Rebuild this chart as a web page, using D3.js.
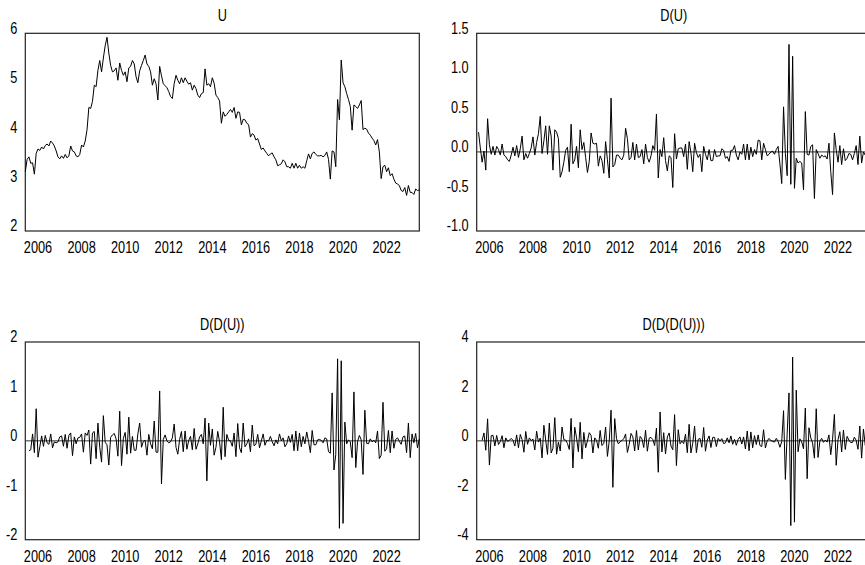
<!DOCTYPE html>
<html><head><meta charset="utf-8">
<script src="https://cdn.jsdelivr.net/npm/d3@7"></script>
<style>
html,body{margin:0;padding:0;background:#fff;}
svg text{font-family:"Liberation Sans",Arial,sans-serif;font-size:17px;fill:#000;}
</style></head>
<body><svg id="c" width="865" height="565"></svg>
<script>
// Monthly series U, first observation 2005M06
const startYear = 2005, startMonth = 6;
const u = [3.20,3.45,3.50,3.37,3.38,3.15,3.57,3.66,3.63,3.70,3.66,3.73,3.76,3.72,3.82,3.78,3.72,3.62,3.50,3.46,
3.52,3.47,3.55,3.48,3.52,3.72,3.62,3.60,3.52,3.50,3.55,3.74,3.70,3.82,4.05,4.50,4.48,4.62,4.95,4.92,
5.25,5.45,5.22,5.50,5.75,5.92,5.60,5.35,5.22,5.24,5.30,5.05,5.40,5.25,5.15,5.22,5.02,5.30,5.33,5.45,
5.38,5.12,5.00,5.24,5.35,5.45,5.56,5.38,5.33,5.22,4.95,5.08,4.98,4.65,5.33,5.14,4.98,4.94,4.90,4.82,
4.72,4.68,4.98,5.15,5.05,4.98,5.10,5.00,5.10,5.03,4.97,5.00,4.85,4.95,4.88,4.75,4.70,4.78,4.80,5.28,
4.95,4.98,4.92,5.10,4.99,4.75,4.70,4.63,4.18,4.41,4.32,4.36,4.41,4.46,4.40,4.50,4.28,4.41,4.40,4.15,
4.26,4.25,4.18,4.15,3.90,3.97,3.94,3.84,3.87,3.76,3.65,3.68,3.62,3.57,3.52,3.56,3.58,3.50,3.44,3.32,
3.34,3.36,3.44,3.40,3.30,3.30,3.27,3.37,3.27,3.37,3.27,3.33,3.27,3.30,3.27,3.42,3.56,3.46,3.57,3.60,
3.55,3.52,3.52,3.53,3.50,3.53,3.60,3.45,3.05,3.62,3.60,3.30,4.66,4.25,5.46,5.00,4.92,4.78,4.66,4.52,
4.04,4.55,4.52,4.48,4.55,4.64,4.05,4.08,4.06,3.98,3.94,3.88,3.83,3.74,3.85,3.60,3.06,3.30,3.33,3.20,
3.28,3.12,3.16,3.05,2.97,2.95,2.92,2.82,2.80,2.88,2.72,2.92,2.78,2.78,2.74,2.85,2.82,2.83];

const yearLabels = [2006,2008,2010,2012,2014,2016,2018,2020,2022];
const titles = ["U","D(U)","D(D(U))","D(D(D(U)))"];
const yTicksU = [2,3,4,5,6];
const yTicksD1 = [-1.0,-0.5,0.0,0.5,1.0,1.5];
const yTicksD2 = [-2,-1,0,1,2];
const yTicksD3 = [-4,-2,0,2,4];

// first difference operator D()
function D(arr){ return arr.map((v,i)=> i===0 || arr[i-1]==null || v==null ? null : +(v-arr[i-1]).toFixed(4)); }
const du = D(u), ddu = D(du), dddu = D(ddu);

const panels = [
  {title:titles[0], data:u,    ticks:yTicksU,  fmt:d=>String(d), zero:false, x0:25.3,  y0:33.3},
  {title:titles[1], data:du,   ticks:yTicksD1, fmt:d=>d.toFixed(1), zero:true, x0:476.7, y0:33.3},
  {title:titles[2], data:ddu,  ticks:yTicksD2, fmt:d=>String(d), zero:true, x0:25.3,  y0:342},
  {title:titles[3], data:dddu, ticks:yTicksD3, fmt:d=>String(d), zero:true, x0:476.7, y0:342}
];
const W = 394, H = 197.7, SX = 0.75;
const svg = d3.select("#c");
const n = u.length;
const monthIndex = y => (y - startYear)*12 - (startMonth - 1);

function label(g, x, y, anchor, txt){
  g.append("text").attr("transform",`translate(${x},${y}) scale(${SX},1)`)
    .attr("text-anchor",anchor).attr("dominant-baseline","middle").text(txt);
}

panels.forEach(p=>{
  const g = svg.append("g");
  const x = d3.scaleLinear().domain([0,n-1]).range([p.x0, p.x0+W]);
  const y = d3.scaleLinear().domain([p.ticks[0], p.ticks[p.ticks.length-1]]).range([p.y0+H, p.y0]);
  g.append("rect").attr("x",p.x0).attr("y",p.y0).attr("width",W).attr("height",H)
    .attr("fill","none").attr("stroke","#222").attr("stroke-width",1.2);
  if(p.zero){
    g.append("line").attr("x1",p.x0).attr("x2",p.x0+W).attr("y1",y(0)).attr("y2",y(0))
      .attr("stroke","#333").attr("stroke-width",1);
  }
  const line = d3.line().defined(d=>d!=null).x((d,i)=>x(i)).y(d=>y(d));
  g.append("path").datum(p.data).attr("d",line).attr("fill","none")
    .attr("stroke","#000").attr("stroke-width",1).attr("stroke-linejoin","round");
  p.ticks.forEach(t=>label(g, p.x0-8, y(t)-4, "end", p.fmt(t)));
  yearLabels.forEach(yr=>label(g, x(monthIndex(yr)), p.y0+H+18, "middle", String(yr)));
  label(g, p.x0+W/2, p.y0-16.6, "middle", p.title);
});
</script></body></html>
